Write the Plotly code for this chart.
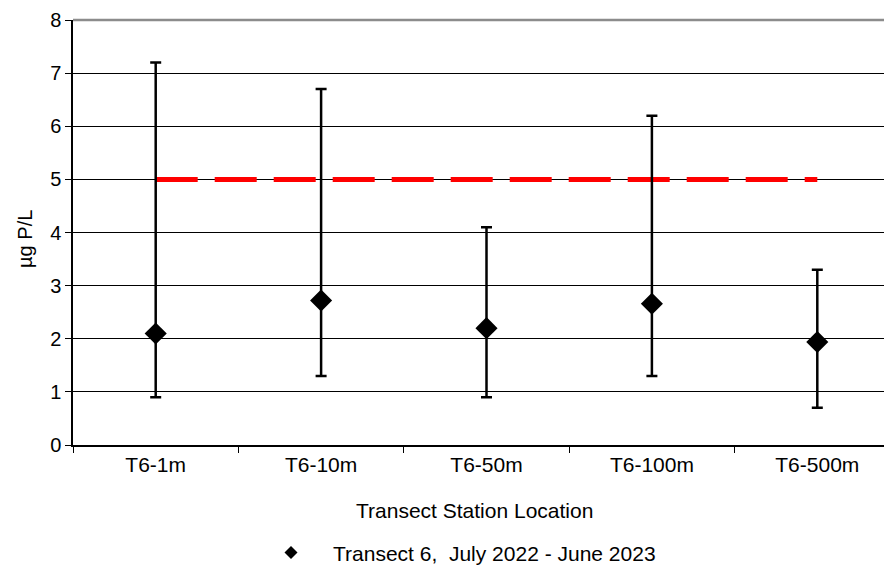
import plotly.graph_objects as go

categories = ["T6-1m", "T6-10m", "T6-50m", "T6-100m", "T6-500m"]
mean_vals = [2.1, 2.72, 2.2, 2.66, 1.94]
upper_vals = [7.2, 6.7, 4.1, 6.2, 3.3]
lower_vals = [0.9, 1.3, 0.9, 1.3, 0.7]
threshold = 5
series_name = "Transect 6,  July 2022 - June 2023"

err_plus = [u - m for u, m in zip(upper_vals, mean_vals)]
err_minus = [m - l for m, l in zip(mean_vals, lower_vals)]

FONT = "Arial, Liberation Sans, sans-serif"

fig = go.Figure()

fig.add_trace(go.Scatter(
    x=[categories[0], categories[-1]], y=[threshold, threshold],
    mode="lines", line=dict(color="#ff0000", width=5, dash="42px,17px"),
    showlegend=False, hoverinfo="skip"))

fig.add_trace(go.Scatter(
    x=categories, y=mean_vals, mode="markers",
    marker=dict(symbol="diamond", size=17, color="black"),
    error_y=dict(type="data", symmetric=False, array=err_plus, arrayminus=err_minus,
                 color="black", thickness=2.5, width=5.5),
    showlegend=False, name=series_name))

fig.add_trace(go.Scatter(
    x=[None], y=[None], mode="markers",
    marker=dict(symbol="diamond", size=10, color="black"),
    name=series_name, showlegend=True))

fig.add_shape(type="line", xref="paper", yref="paper", x0=0, x1=1, y0=1, y1=1,
              line=dict(color="#8c8c8c", width=2.5), layer="above")

fig.update_layout(
    width=892, height=569,
    margin=dict(l=65, r=0, t=12, b=132),
    plot_bgcolor="white", paper_bgcolor="white",
    font=dict(family=FONT, size=20, color="black"),
    showlegend=True,
    legend=dict(orientation="h", x=0.2128, xanchor="left", y=-0.254, yanchor="middle",
                font=dict(size=21), itemwidth=74, bgcolor="rgba(0,0,0,0)"),
    xaxis=dict(type="category", categoryorder="array", categoryarray=categories,
               range=[-0.5, 4.5], tickson="boundaries", ticks="outside", ticklen=6,
               tickcolor="black", showline=True, linecolor="black", linewidth=1.5,
               showgrid=False, zeroline=False, tickfont=dict(size=21), automargin=False),
    yaxis=dict(range=[0, 8], dtick=1, ticks="outside", ticklen=6, tickcolor="black",
               showline=True, linecolor="black", linewidth=1.5,
               showgrid=True, gridcolor="black", gridwidth=1, zeroline=False,
               tickfont=dict(size=20), ticklabeloverflow="allow", automargin=False),
    annotations=[
        dict(text="Transect Station Location", xref="paper", yref="paper",
             x=0.4855, y=-0.153,
             xanchor="center", yanchor="middle", showarrow=False, font=dict(size=21)),
        dict(text="µg P/L", xref="paper", yref="paper",
             x=-0.058, y=0.485,
             xanchor="center", yanchor="middle", textangle=-90, showarrow=False,
             font=dict(size=20)),
    ],
)

fig.write_html("out.html")
